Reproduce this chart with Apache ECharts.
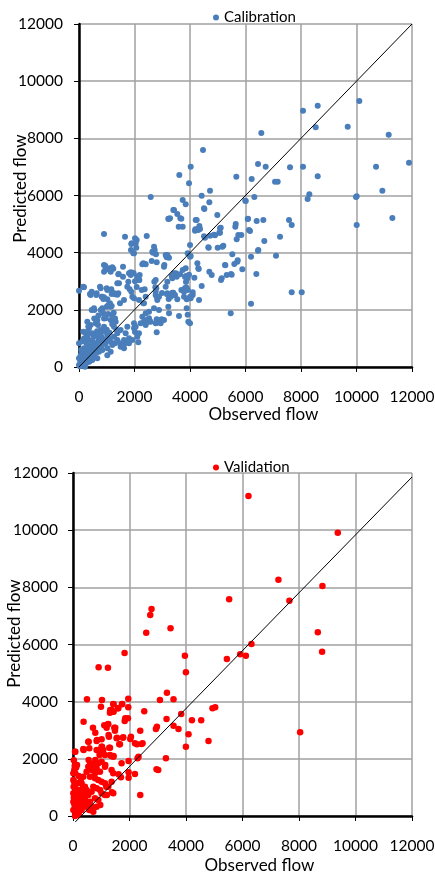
<!DOCTYPE html>
<html><head><meta charset="utf-8">
<script src="https://cdn.jsdelivr.net/npm/echarts@6/dist/echarts.min.js"></script>
<style>html,body{margin:0;padding:0;background:#fff}#c{width:435px;height:873px}</style>
</head><body><div id="c"></div>
<script>
const axisTicks = [0, 2000, 4000, 6000, 8000, 10000, 12000];
const xTitle = 'Observed flow';
const yTitle = 'Predicted flow';
const calibName = 'Calibration';
const validName = 'Validation';

// Calibration points [observed, predicted]
const calibPoints = [
[2584,5948],[3737,5843],[3615,6718],[3964,6428],[4025,7009],[4469,7593],[4421,5994],[4721,6169],[5669,6659],[6223,6578],
[6318,5948],[6451,7103],[6570,8188],[6728,7009],[7064,6484],[7160,6484],[7604,6987],[8073,8968],[8073,7009],[8300,6043],
[8239,5879],[8530,8387],[8602,9143],[8602,6672],[9683,8409],[9983,5948],[10102,9307],[10704,7009],[10932,6169],[11161,8129],
[11893,7149],[10007,4969],[11292,5214],[7665,2614],[8026,2614],[6199,2216],[5467,1879],[7568,5144],[7665,4969],[7100,3895],
[7244,4560],[6678,4409],[6451,4071],[6390,3254],[6199,3860],[6080,5179],[6403,5109],[6643,5144],[6163,4759],[5633,4910],
[5741,4619],[5849,4619],[5705,3685],[5525,3942],[5478,3254],[5273,3558],[5143,3103],[5323,3219],[5165,4210],[4984,5318],
[5057,4700],[5082,4852],[4865,4630],[4721,4595],[4673,4175],[4697,3335],[4781,3219],[4505,4573],[4517,5528],[4337,4934],
[4361,4829],[4193,4818],[4697,5763],[4241,5144],[3845,5693],[3651,5203],[3543,5353],[3399,5493],[3232,5179],[3593,4910],
[4265,3628],[4313,3429],[4421,2834],[4325,2344],[4001,4269],[3916,3977],[4001,3860],[3964,3230],[3916,2694],[4001,2460],
[4097,2519],[3916,1831],[3940,1585],[4001,1527],[3821,3149],[3821,2764],[3737,3394],[3232,2379],[3171,2544],[2991,2589],
[3219,2110],[3604,1785],[3075,3569],[3124,3919],[3159,3838],[2775,3942],[2703,4210],[2642,4035],[2714,2985],[2750,2789],
[2800,2460],[2822,2344],[2800,1214],[2800,1550],[2980,1668],[2317,3628],[2378,3604],[2440,4584],[2260,2694],[2317,2227],
[2404,1879],[2440,1644],[2500,1585],[2018,4503],[2079,4444],[1899,4328],[1874,4094],[1982,3977],[1658,4560],[901,4654],
[948,3546],[948,3394],[1081,3440],[1236,3441],[1430,3254],[1586,3160],[1863,3219],[1935,3300],[2101,3160],[2137,3079],
[2174,3044],[2018,3000],[2080,2800],[1777,2985],[1441,2928],[1417,2579],[1297,2544],[1178,2555],[1477,2228],[1117,2228],
[1178,2134],[998,2110],[818,2460],[877,2379],[757,2810],[998,2753],[458,2635],[637,2579],[155,2810],[0,2670],
[396,2555],[458,1994],[551,1994],[818,1994],[877,1879],[299,1585],[335,1411],[637,1527],[0,830],[155,1236],
[2018,1225],[1838,945],[2137,864],[1297,828],[1477,828],[1658,828],[1020,409],[216,12],
[3688,5190],[3219,5190],[4205,5144],[4505,5552],[5107,4875],[5648,5004],[6127,4794],[5994,5819],[10007,5971],[4289,4840],
[3424,5493],[3280,5202],[4181,4770],[4300,4794],[5082,4700],[4541,4525],[4901,4607],[5683,4468],[6091,5190],[6008,5808],
[6462,4094],[5719,3732],[5597,3604],[5885,3418],[5262,3569],[5118,3044],[5503,3230],[4097,2614],[4025,2404],[3881,2369],
[3881,2054],[4300,3453],[3845,3453],[3856,3184],[3904,3103],[3856,2974],[3881,2775],[4157,3125],[3496,3278],[3341,3184],
[3521,3160],[3399,2600],[3460,2519],[4025,3884],[4661,4188],[4997,4175],[5200,4245],
[1885,4304],[2043,4328],[2065,4175],[1957,3977],[2727,4094],[2667,4000],[3183,3919],[3243,3825],[3737,4910],[3063,3510],
[2800,3663],[2620,3709],[2404,3593],[2281,3593],[901,3569],[1117,3453],[1142,3335],[1200,3488],[901,3335],[1586,3510],
[1417,3243],[1802,3278],[1862,3313],[1970,3278],[2162,3044],[2186,3219],[1741,2810],[1381,2928],[1020,2694],[1164,2718],
[1261,2579],[1322,2555],[782,2753],[840,2460],[624,2519],[180,2789],[1826,2718],[1885,2635],[1982,2404],[2366,2718],
[2763,3044],[2786,2753],[2763,2635],[2883,2460],[3124,2810],[3183,2985],[3362,3103],[3424,3278],[3521,3219],[3640,3243],
[3362,2600],[3424,2519],[3304,2460],[3688,2694],[3784,2635],[3784,2460],[3543,2369],
[420,2519],[901,2437],[1237,2577],[1381,2531],[1021,2367],[1057,2169],[1142,2111],[1622,2344],[1922,2461],[2162,2344],
[2342,2228],[2403,2461],[2763,2519],[2823,2461],[3183,2577],[3244,1878],[3063,1644],[2943,1528],[2763,1528],[2799,1668],
[2523,1703],[2583,1586],[2283,1761],[2342,1586],[2222,1528],[2403,1470],[2703,2053],[2883,1995],[2523,1936],[1982,1528],
[1982,1353],[1742,1411],[1682,1178],[1802,1003],[1922,945],[2102,1061],[2162,1178],[1622,945],[1802,828],[1622,653],
[1501,711],[1381,1178],[1501,1295],[1261,1411],[1321,1586],[1142,1644],[1201,1820],[961,1703],[781,1995],[841,2053],
[540,2053],[661,1644],[685,1470],[601,1528],[420,1470],[360,1353],[300,1236],[240,1178],[480,1178],[540,1061],
[781,1295],[901,1411],[961,1236],[1021,1120],[1081,1003],[1142,886],[1201,770],[961,828],[841,945],[721,1003],
[601,828],[661,711],[480,770],[360,945],[300,770],[180,653],[120,536],[60,420],[0,303],[180,361],
[300,478],[420,536],[540,420],[721,536],[841,595],[1021,653],[1142,536],[661,303],[480,245],[360,187],
[240,128],[60,128],[0,70],[1682,886],[2042,1411],[1261,1061],[1381,945],
[50,200],[100,150],[150,350],[200,250],[250,450],[300,300],[350,600],[400,350],[120,900],[80,600],
[180,1000],[260,850],[320,1100],[420,700],[480,900],[550,650],[600,1100],[650,1250],[700,900],[750,1150],
[820,1050],[880,1250],[150,50],[30,30],[60,100],[280,150],[380,200],[450,400],[500,550],[620,500],
[700,600],[780,700],[860,800],[940,950],[1000,1300],[1100,1200],[1200,1500],[1300,1700],[1350,1300],[900,1700],
[700,1800],[550,1700],[1050,1850],[1250,1900]
];

// Validation points [observed, predicted]
const validPoints = [
[6211,11197],[9373,9913],[7272,8268],[8829,8048],[7661,7534],[5528,7582],[2780,7243],[2734,7033],[2592,6414],[3452,6566],
[8666,6428],[8818,5749],[6317,6018],[5918,5656],[6119,5610],[5447,5493],[1826,5703],[3961,5610],[907,5203],[1237,5190],
[3996,5027],[8040,2929],
[3325,4314],[3077,4059],[3558,4083],[1956,4104],[1026,4059],[495,4083],[990,3824],[1436,3907],[1730,3907],[1319,3709],
[1437,3660],[1591,3767],[1956,3802],[2522,3663],[3831,3569],[3311,3394],[4209,3348],[4538,3348],[4938,3767],[5033,3802],
[4089,2859],[4796,2624],[3996,2425],[3735,3044],[3558,3159],[3289,2019],[3017,1610],[2971,3125],[2935,3044],[2380,2985],
[2462,2543],[2263,2509],[2320,2075],[2193,1470],[2380,735],[2051,2775],[2027,2694],[1967,1925],[1967,1529],[1967,1340],
[1697,1354],[1613,1459],[1850,3418],[1945,3418],[1830,3324],[1556,2740],[1767,2740],[1638,2509],[1355,2099],[1437,2099],
[1237,3208],[1107,3173],[1496,3091],[1260,2834],[1284,2391],[1026,2425],[966,2309],[941,2134],[1142,1785],[789,2915],
[707,3090],[375,3301],[552,2601],[848,2659],[375,2309],[81,2251],[552,1960],[612,1843],[789,1960],[789,1727],
[730,1610],[81,1494],[46,1610],[141,1785],[22,1025],[966,385],[577,210],[1178,1025],[1200,735],[1379,829],
[541,2600],[836,2624],[1013,2683],[1272,2776],[1544,2717],[1779,2752],[1661,2508],[1308,2391],[836,2309],[364,2344],
[1249,3219],[1190,3091],[1461,3091],[1485,2985],[1425,3919],[1744,3919],[1602,3767],[1366,3709],[1308,3616],[1425,3651],
[71,2250],[577,2369],[1012,2425],[1072,2309],[955,2194],[1131,2134],[1309,2134],[1425,2075],[2193,2544],[2426,2519],
[2285,2019],[2957,1634],[1719,1844],[1366,1610],[1425,1494],[1131,1727],
[1013,1900],[896,1844],[836,1669],[955,1552],[778,1494],[659,1610],[718,1785],[541,1727],[481,1552],[601,1377],
[778,1318],[896,1260],[1013,1201],[1131,1143],[1249,1026],[1425,793],[1366,1201],[364,1377],[305,1143],[423,1026],
[481,910],[364,793],[541,735],[659,852],[718,1026],[836,968],[955,910],[1013,793],[1131,735],[896,560],
[778,618],[601,502],[481,385],[364,327],[305,210],[247,618],[187,385],[128,152],[187,35],[71,0],
[12,1494],[12,1260],[71,1026],[128,910],[12,793],[71,677],[128,560],[12,502],[71,327],[12,210],
[247,910],[187,793],[247,443],[305,560],[423,618],[423,443],[541,268],[659,327],[718,152],[836,327],
[100,100],[50,400],[150,250],[200,100],[30,650],[90,850],[160,1150],[40,1200],[110,1700],[200,1400],
[280,1300],[30,1950],[60,1750],[350,1000],[250,700],[180,450],[100,600]
];

// 1:1 reference lines
const calibLineX = [0, 12000];
const calibLineY = [0, 12000];
const validLineX = [80, 12000];
const validLineY = [-210, 11860];

const FONT = 'Lato';
const chart = echarts.init(document.getElementById('c'), null, {renderer: 'canvas'});

function xAx(gi, pad, gap) {
  return {
    type: 'value', gridIndex: gi, min: 0, max: 12000, interval: 2000,
    name: xTitle, nameLocation: 'middle', nameGap: gap, nameMoveOverlap: false,
    nameTextStyle: {fontFamily: FONT, fontSize: 17, color: '#000', padding: [0, 0, 0, pad]},
    axisLine: {show: true, onZero: false, lineStyle: {color: '#000', width: 2.5}},
    axisTick: {show: true, length: 5, lineStyle: {color: '#000', width: 1}},
    axisLabel: {fontFamily: FONT, fontSize: 15.5, color: '#000', margin: 22, formatter: v => String(v)},
    splitLine: {show: true, lineStyle: {color: '#a0a0a0', width: 1.5}}
  };
}
function yAx(gi, gap, margin, shift) {
  return {
    type: 'value', gridIndex: gi, min: 0, max: 12000, interval: 2000,
    name: yTitle, nameLocation: 'middle', nameGap: gap, nameRotate: 90, nameMoveOverlap: false,
    nameTextStyle: {fontFamily: FONT, fontSize: 17, color: '#000', padding: [0, 0, 0, shift]},
    axisLine: {show: true, onZero: false, lineStyle: {color: '#000', width: 2.5}},
    axisTick: {show: true, length: 5, lineStyle: {color: '#000', width: 1}},
    axisLabel: {fontFamily: FONT, fontSize: 15.5, color: '#000', margin: margin, formatter: v => String(v)},
    splitLine: {show: true, lineStyle: {color: '#a0a0a0', width: 1.5}}
  };
}

const option = {
  animation: false,
  backgroundColor: '#fff',
  grid: [
    {left: 79, top: 24, width: 333, height: 343, containLabel: false, outerBoundsMode: 'none'},
    {left: 73, top: 473, width: 339, height: 343, containLabel: false, outerBoundsMode: 'none'}
  ],
  xAxis: [xAx(0, 36, 39), xAx(1, 34, 41)],
  yAxis: [yAx(0, 50, 16, 14), yAx(1, 50, 15, 22)],
  legend: [
    {data: [calibName], left: 208, top: 5, icon: 'circle', itemWidth: 6, itemHeight: 6, itemGap: 4,
     textStyle: {fontFamily: FONT, fontSize: 15, color: '#000'}},
    {data: [validName], left: 208, top: 455, icon: 'circle', itemWidth: 6, itemHeight: 6, itemGap: 4,
     textStyle: {fontFamily: FONT, fontSize: 15, color: '#000'}}
  ],
  series: [
    {name: calibName, type: 'scatter', xAxisIndex: 0, yAxisIndex: 0, symbolSize: 6,
     itemStyle: {color: '#4a7ebb', opacity: 1}, data: calibPoints},
    {name: validName, type: 'scatter', xAxisIndex: 1, yAxisIndex: 1, symbolSize: 6.5,
     itemStyle: {color: '#ff0000', opacity: 1}, data: validPoints},
    {name: 'line1', type: 'line', xAxisIndex: 0, yAxisIndex: 0, symbol: 'none', clip: false, silent: true,
     lineStyle: {color: '#000', width: 1}, data: calibLineX.map((x, i) => [x, calibLineY[i]])},
    {name: 'line2', type: 'line', xAxisIndex: 1, yAxisIndex: 1, symbol: 'none', clip: false, silent: true,
     lineStyle: {color: '#000', width: 1}, data: validLineX.map((x, i) => [x, validLineY[i]])}
  ]
};
chart.setOption(option);
</script>
</body></html>
